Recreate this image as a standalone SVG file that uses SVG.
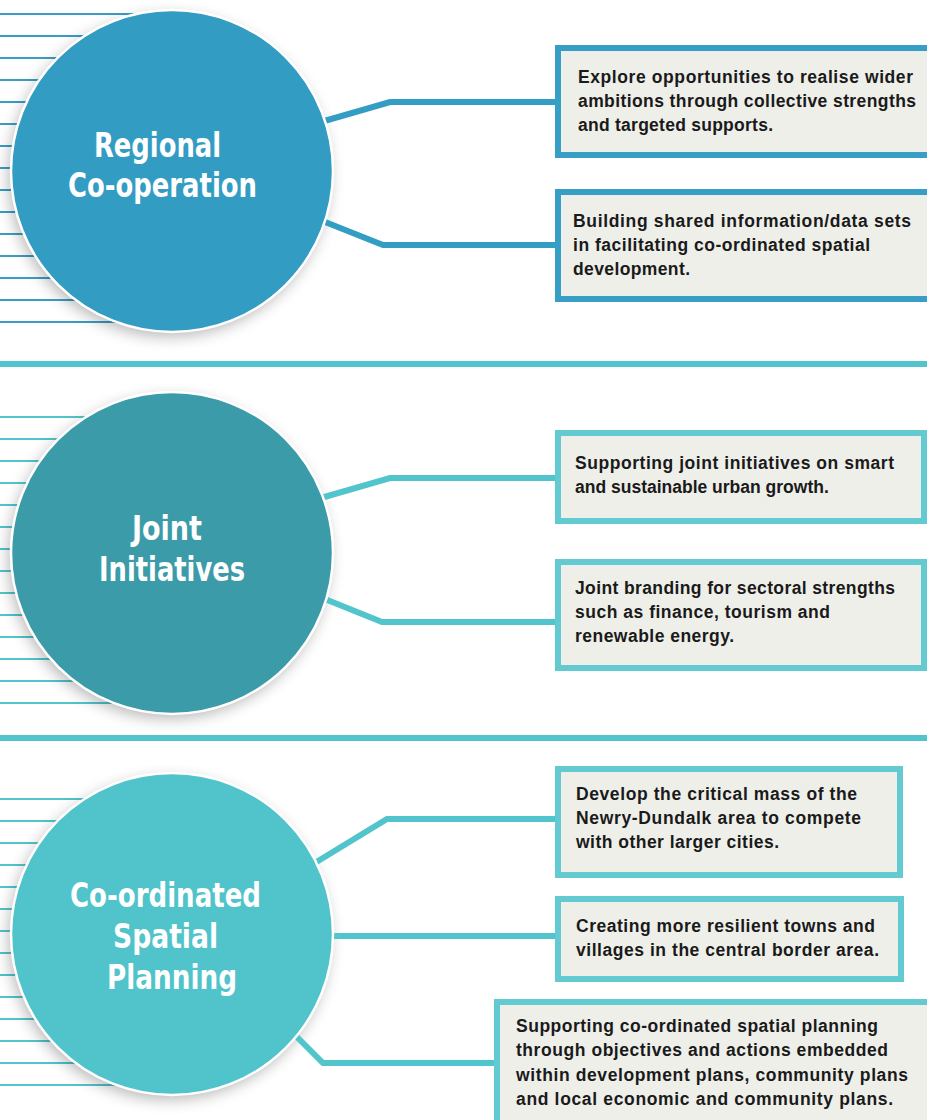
<svg xmlns="http://www.w3.org/2000/svg" width="927" height="1120" viewBox="0 0 927 1120">
<defs>
<filter id="sh" x="-30%" y="-30%" width="160%" height="160%"><feGaussianBlur stdDeviation="8"/></filter>
<style>
.l1{stroke:#3a9dc3;stroke-width:2}
.l2{stroke:#52c4cb;stroke-width:2}
.shadow{fill:#000;opacity:0.3;filter:url(#sh)}
.circ{stroke:#fff;stroke-width:2.5}
.ct{font-family:"DejaVu Sans Condensed","DejaVu Sans",sans-serif;font-weight:bold;font-size:34px;fill:#fff;text-anchor:middle}
.box{fill:#efefea;stroke-width:6}
.b1{stroke:#379fc5}
.b2{stroke:#62cad0}
.bt{font-family:"Liberation Sans",Arial,sans-serif;font-weight:bold;font-size:17.5px;fill:#1a1a1a}
.c1{fill:none;stroke:#349dc3;stroke-width:6}
.c2{fill:none;stroke:#52c4cb;stroke-width:6}
</style>
</defs>
<rect width="927" height="1120" fill="#fff"/>
<g id="stripes">
<g class="l1">
<line x1="0" y1="14" x2="172" y2="14"/><line x1="0" y1="36" x2="172" y2="36"/><line x1="0" y1="58" x2="172" y2="58"/><line x1="0" y1="80" x2="172" y2="80"/><line x1="0" y1="102" x2="172" y2="102"/><line x1="0" y1="124" x2="172" y2="124"/><line x1="0" y1="146" x2="172" y2="146"/><line x1="0" y1="168" x2="172" y2="168"/><line x1="0" y1="190" x2="172" y2="190"/><line x1="0" y1="212" x2="172" y2="212"/><line x1="0" y1="234" x2="172" y2="234"/><line x1="0" y1="256" x2="172" y2="256"/><line x1="0" y1="278" x2="172" y2="278"/><line x1="0" y1="300" x2="172" y2="300"/><line x1="0" y1="322" x2="172" y2="322"/>
</g>
<g class="l2">
<line x1="0" y1="417" x2="172" y2="417"/><line x1="0" y1="439" x2="172" y2="439"/><line x1="0" y1="461" x2="172" y2="461"/><line x1="0" y1="483" x2="172" y2="483"/><line x1="0" y1="505" x2="172" y2="505"/><line x1="0" y1="527" x2="172" y2="527"/><line x1="0" y1="549" x2="172" y2="549"/><line x1="0" y1="571" x2="172" y2="571"/><line x1="0" y1="593" x2="172" y2="593"/><line x1="0" y1="615" x2="172" y2="615"/><line x1="0" y1="637" x2="172" y2="637"/><line x1="0" y1="659" x2="172" y2="659"/><line x1="0" y1="681" x2="172" y2="681"/><line x1="0" y1="703" x2="172" y2="703"/>
<line x1="0" y1="799" x2="172" y2="799"/><line x1="0" y1="821" x2="172" y2="821"/><line x1="0" y1="843" x2="172" y2="843"/><line x1="0" y1="865" x2="172" y2="865"/><line x1="0" y1="887" x2="172" y2="887"/><line x1="0" y1="909" x2="172" y2="909"/><line x1="0" y1="931" x2="172" y2="931"/><line x1="0" y1="953" x2="172" y2="953"/><line x1="0" y1="975" x2="172" y2="975"/><line x1="0" y1="997" x2="172" y2="997"/><line x1="0" y1="1019" x2="172" y2="1019"/><line x1="0" y1="1041" x2="172" y2="1041"/><line x1="0" y1="1063" x2="172" y2="1063"/><line x1="0" y1="1085" x2="172" y2="1085"/>
</g>
</g>
<g id="separators" fill="#52c4cb">
<rect x="0" y="361" width="927" height="6"/>
<rect x="0" y="735" width="927" height="6"/>
</g>
<g id="shadows">
<circle class="shadow" cx="169" cy="176" r="160"/>
<circle class="shadow" cx="169" cy="558" r="160"/>
<circle class="shadow" cx="169" cy="939" r="160"/>
</g>
<g id="connectors">
<polyline class="c1" points="300,128 390,102 556,102"/>
<polyline class="c1" points="300,212 383,245 556,245"/>
<polyline class="c2" points="300,504 390,478 556,478"/>
<polyline class="c2" points="300,589 382,622 556,622"/>
<polyline class="c2" points="300,872 387,819 556,819"/>
<polyline class="c2" points="300,936 556,936"/>
<polyline class="c2" points="290,1030 323,1063 495,1063"/>
</g>
<g id="node-regional">
<circle class="circ" cx="172" cy="171" r="161" fill="#339cc2"/>
<text class="ct" x="157.5" y="157" textLength="127" lengthAdjust="spacingAndGlyphs">Regional</text>
<text class="ct" x="162.5" y="197" textLength="189" lengthAdjust="spacingAndGlyphs">Co-operation</text>
</g>
<g id="node-joint">
<circle class="circ" cx="172" cy="553" r="161" fill="#3c9ba9"/>
<text class="ct" x="167" y="540" textLength="70" lengthAdjust="spacingAndGlyphs">Joint</text>
<text class="ct" x="172" y="581" textLength="146" lengthAdjust="spacingAndGlyphs">Initiatives</text>
</g>
<g id="node-spatial">
<circle class="circ" cx="172" cy="934" r="161" fill="#51c3ca"/>
<text class="ct" x="165.5" y="907" textLength="191" lengthAdjust="spacingAndGlyphs">Co-ordinated</text>
<text class="ct" x="165.5" y="948" textLength="105" lengthAdjust="spacingAndGlyphs">Spatial</text>
<text class="ct" x="172" y="989" textLength="130" lengthAdjust="spacingAndGlyphs">Planning</text>
</g>
<g id="box-1">
<rect class="box b1" x="558" y="48" width="380" height="107"/>
<text class="bt" x="578" y="83" textLength="335">Explore opportunities to realise wider</text>
<text class="bt" x="578" y="107" textLength="338">ambitions through collective strengths</text>
<text class="bt" x="578" y="131" textLength="195">and targeted supports.</text>
</g>
<g id="box-2">
<rect class="box b1" x="558" y="192" width="380" height="107"/>
<text class="bt" x="573" y="227" textLength="338">Building shared information/data sets</text>
<text class="bt" x="573" y="251" textLength="297">in facilitating co-ordinated spatial</text>
<text class="bt" x="573" y="275" textLength="117">development.</text>
</g>
<g id="box-3">
<rect class="box b2" x="558" y="433" width="366" height="88"/>
<text class="bt" x="575" y="469" textLength="319">Supporting joint initiatives on smart</text>
<text class="bt" x="575" y="493">and sustainable urban growth.</text>
</g>
<g id="box-4">
<rect class="box b2" x="558" y="562" width="366" height="106"/>
<text class="bt" x="575" y="594" textLength="320">Joint branding for sectoral strengths</text>
<text class="bt" x="575" y="618" textLength="255">such as finance, tourism and</text>
<text class="bt" x="575" y="642" textLength="159">renewable energy.</text>
</g>
<g id="box-5">
<rect class="box b2" x="558" y="769" width="342" height="106"/>
<text class="bt" x="576" y="800" textLength="281">Develop the critical mass of the</text>
<text class="bt" x="576" y="824" textLength="285">Newry-Dundalk area to compete</text>
<text class="bt" x="576" y="848" textLength="203">with other larger cities.</text>
</g>
<g id="box-6">
<rect class="box b2" x="558" y="899" width="343" height="80"/>
<text class="bt" x="576" y="932" textLength="299">Creating more resilient towns and</text>
<text class="bt" x="576" y="956" textLength="303">villages in the central border area.</text>
</g>
<g id="box-7">
<rect class="box b2" x="497" y="1002" width="440" height="130"/>
<text class="bt" x="516" y="1032" textLength="362">Supporting co-ordinated spatial planning</text>
<text class="bt" x="516" y="1056" textLength="372">through objectives and actions embedded</text>
<text class="bt" x="516" y="1081" textLength="392">within development plans, community plans</text>
<text class="bt" x="516" y="1105" textLength="377">and local economic and community plans.</text>
</g>
</svg>
